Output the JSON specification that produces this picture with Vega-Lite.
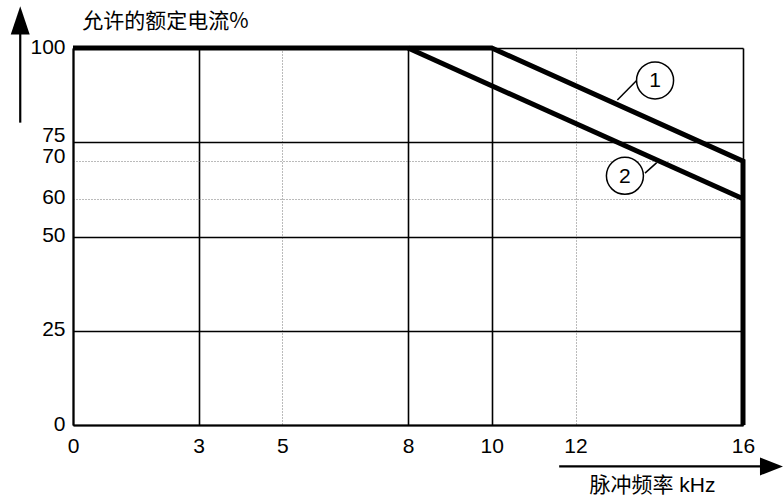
{
  "$schema": "https://vega.github.io/schema/vega-lite/v6.json",
  "width": 670,
  "height": 377,
  "autosize": "none",
  "padding": {"left": 73, "top": 48, "right": 40, "bottom": 73},
  "background": "white",
  "config": {"view": {"stroke": null}, "font": "Liberation Sans"},
  "layer": [
    {
      "data": {"values": [
        {"curve": "1", "o": 1, "x": 0, "y": 100},
        {"curve": "1", "o": 2, "x": 10, "y": 100},
        {"curve": "1", "o": 3, "x": 16, "y": 70},
        {"curve": "1", "o": 4, "x": 16, "y": 0},
        {"curve": "2", "o": 1, "x": 8, "y": 100},
        {"curve": "2", "o": 2, "x": 16, "y": 60}
      ]},
      "mark": {"type": "line", "color": "black", "strokeWidth": 5, "strokeJoin": "miter", "strokeCap": "butt"},
      "encoding": {
        "x": {
          "field": "x", "type": "quantitative",
          "scale": {"domain": [0, 16], "nice": false, "zero": false},
          "axis": {
            "values": [0, 3, 5, 8, 10, 12, 16],
            "grid": true, "ticks": false, "tickSize": 0,
            "domainColor": "black", "domainWidth": 2,
            "labelFont": "Liberation Sans", "labelFontSize": 21, "labelColor": "black",
            "labelPadding": 10, "labelFlush": false, "labelOverlap": false,
            "gridColor": {"condition": {"test": "datum.value == 5 || datum.value == 12", "value": "#777777"}, "value": "black"},
            "gridDash": {"condition": {"test": "datum.value == 5 || datum.value == 12", "value": [1, 2]}, "value": []},
            "gridWidth": {"condition": {"test": "datum.value == 5 || datum.value == 12", "value": 1}, "value": 1.6},
            "gridOpacity": 1,
            "title": "脉冲频率 kHz",
            "titleFont": "Liberation Sans, Noto Sans CJK SC",
            "titleFontSize": 21, "titleFontWeight": "normal", "titleColor": "black",
            "titleAngle": 0, "titleAlign": "center", "titleBaseline": "middle",
            "titleX": 579, "titleY": 60
          }
        },
        "y": {
          "field": "y", "type": "quantitative",
          "scale": {"domain": [0, 100], "nice": false, "zero": false},
          "axis": {
            "values": [0, 25, 50, 60, 70, 75, 100],
            "grid": true, "ticks": false, "tickSize": 0,
            "domainColor": "black", "domainWidth": 2,
            "labelFont": "Liberation Sans", "labelFontSize": 21, "labelColor": "black",
            "labelPadding": 8, "labelFlush": false, "labelOverlap": false,
            "labelOffset": {"condition": [
              {"test": "datum.value == 75", "value": -7},
              {"test": "datum.value == 70", "value": -5}
            ], "value": -1},
            "gridColor": {"condition": {"test": "datum.value == 60 || datum.value == 70", "value": "#777777"}, "value": "black"},
            "gridDash": {"condition": {"test": "datum.value == 60 || datum.value == 70", "value": [1, 2]}, "value": []},
            "gridWidth": {"condition": {"test": "datum.value == 60 || datum.value == 70", "value": 1}, "value": 1.6},
            "gridOpacity": 1,
            "title": "允许的额定电流%",
            "titleFont": "Noto Sans CJK SC, Liberation Sans",
            "titleFontSize": 21, "titleFontWeight": "normal", "titleColor": "black",
            "titleAngle": 0, "titleAlign": "center", "titleBaseline": "middle",
            "titleX": 92, "titleY": -27
          }
        },
        "detail": {"field": "curve"},
        "order": {"field": "o", "type": "quantitative"}
      }
    },
    {
      "data": {"values": [
        {"id": "1", "x": 13.0, "y": 86.2},
        {"id": "1", "x": 13.46, "y": 91.4},
        {"id": "2", "x": 13.66, "y": 66.8},
        {"id": "2", "x": 13.94, "y": 69.6}
      ]},
      "mark": {"type": "line", "color": "black", "strokeWidth": 1.5},
      "encoding": {
        "x": {"field": "x", "type": "quantitative"},
        "y": {"field": "y", "type": "quantitative"},
        "detail": {"field": "id"}
      }
    },
    {
      "data": {"values": [
        {"label": "1", "x": 13.9, "y": 91.4},
        {"label": "2", "x": 13.18, "y": 66.1}
      ]},
      "layer": [
        {
          "mark": {"type": "point", "shape": "circle", "size": 1369, "filled": true, "fill": "white", "stroke": "black", "strokeWidth": 1.5, "opacity": 1},
          "encoding": {
            "x": {"field": "x", "type": "quantitative"},
            "y": {"field": "y", "type": "quantitative"}
          }
        },
        {
          "mark": {"type": "text", "font": "Liberation Sans", "fontSize": 21, "color": "black", "align": "center", "baseline": "middle", "dy": 1},
          "encoding": {
            "x": {"field": "x", "type": "quantitative"},
            "y": {"field": "y", "type": "quantitative"},
            "text": {"field": "label"}
          }
        }
      ]
    },
    {
      "data": {"values": [
        {"axis": "y", "x": -1.26, "y": 80.2, "x2": -1.26, "y2": 104},
        {"axis": "x", "x": 11.61, "y": -11, "x2": 16.45, "y2": -11}
      ]},
      "mark": {"type": "rule", "color": "black", "strokeWidth": 2.2},
      "encoding": {
        "x": {"field": "x", "type": "quantitative"},
        "y": {"field": "y", "type": "quantitative"},
        "x2": {"field": "x2"},
        "y2": {"field": "y2"}
      }
    },
    {
      "data": {"values": [{"x": -1.26, "y": 107.3}]},
      "mark": {"type": "point", "shape": "M0,-1L0.67,1L-0.67,1Z", "size": 800, "filled": true, "color": "black", "opacity": 1},
      "encoding": {
        "x": {"field": "x", "type": "quantitative"},
        "y": {"field": "y", "type": "quantitative"}
      }
    },
    {
      "data": {"values": [{"x": 16.68, "y": -11}]},
      "mark": {"type": "point", "shape": "M1,0L-1,-0.78L-1,0.78Z", "size": 529, "filled": true, "color": "black", "opacity": 1},
      "encoding": {
        "x": {"field": "x", "type": "quantitative"},
        "y": {"field": "y", "type": "quantitative"}
      }
    }
  ]
}
